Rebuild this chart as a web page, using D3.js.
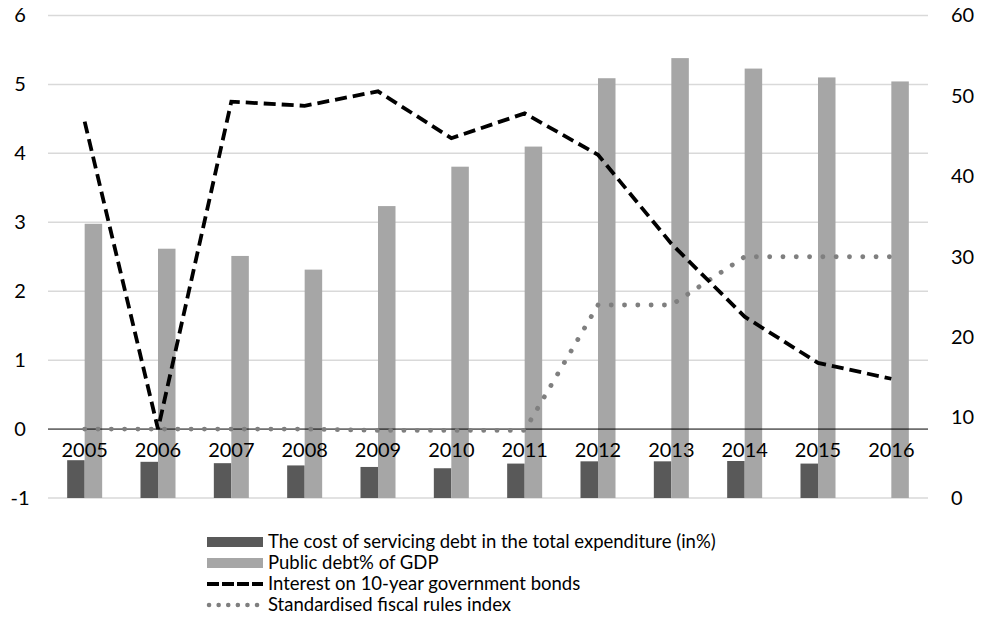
<!DOCTYPE html>
<html>
<head>
<meta charset="utf-8">
<script src="https://cdn.jsdelivr.net/npm/d3@7"></script>
<style>
  body { margin: 0; background: #fff; }
  text { font-family: Lato, "Open Sans", sans-serif; fill: #000; }
</style>
</head>
<body>
<script>
const years = ["2005","2006","2007","2008","2009","2010","2011","2012","2013","2014","2015","2016"];
const servicingCost = [4.7, 4.5, 4.33, 4.05, 3.86, 3.7, 4.28, 4.56, 4.56, 4.6, 4.28, null];
const publicDebt = [34.1, 31.0, 30.1, 28.4, 36.3, 41.2, 43.7, 52.2, 54.7, 53.4, 52.3, 51.8];
const bondInterest = [4.46, 0.0, 4.75, 4.69, 4.9, 4.22, 4.58, 3.98, 2.69, 1.63, 0.96, 0.73];
const fiscalIndex = [0, 0, 0, 0, -0.02, -0.02, -0.02, 1.8, 1.8, 2.5, 2.5, 2.5];
const leftTicks = [-1, 0, 1, 2, 3, 4, 5, 6];
const rightTicks = [0, 10, 20, 30, 40, 50, 60];
const legendLabels = [
    "The cost of servicing debt in the total expenditure (in%)",
    "Public debt% of GDP",
    "Interest on 10-year government bonds",
    "Standardised fiscal rules index"
];

const W = 985, H = 636;
const plot = {left: 48, right: 928, top: 15.5, bottom: 498};

const svg = d3.select('body').append('svg')
    .attr('width', W)
    .attr('height', H);

const x = d3.scaleBand()
    .domain(years)
    .range([plot.left, plot.right]);

const yLeft = d3.scaleLinear()
    .domain([-1, 6])
    .range([plot.bottom, plot.top]);

const yRight = d3.scaleLinear()
    .domain([0, 60])
    .range([plot.bottom, plot.top]);

const cx = d => x(d) + x.bandwidth() / 2;
const barW = 17.5;

// gridlines
svg.append('g')
    .selectAll('line')
    .data(leftTicks.filter(d => d !== 0))
    .enter()
    .append('line')
    .attr('x1', plot.left)
    .attr('x2', plot.right)
    .attr('y1', d => yLeft(d))
    .attr('y2', d => yLeft(d))
    .attr('stroke', '#d9d9d9')
    .attr('stroke-width', 1.5);

// left axis labels (plain hyphen for negatives, like the original)
svg.append('g')
    .attr('transform', `translate(${plot.left}, 0)`)
    .call(d3.axisLeft(yLeft).tickValues(leftTicks).tickFormat(d => String(d)).tickSize(0).tickPadding(28))
    .call(g => g.select('.domain').remove())
    .selectAll('text')
    .attr('text-anchor', 'middle')
    .style('font-size', '20px');

// right axis labels
svg.append('g')
    .attr('transform', `translate(${plot.right}, 0)`)
    .call(d3.axisRight(yRight).tickValues(rightTicks).tickSize(0).tickPadding(23))
    .call(g => g.select('.domain').remove())
    .selectAll('text')
    .style('font-size', '20px');

// bars
svg.append('g')
    .selectAll('rect')
    .data(years.map((y, i) => ({year: y, v: servicingCost[i]})).filter(d => d.v != null))
    .enter()
    .append('rect')
    .attr('x', d => cx(d.year) - barW)
    .attr('width', barW)
    .attr('y', d => yRight(d.v))
    .attr('height', d => yRight(0) - yRight(d.v))
    .attr('fill', '#595959');

svg.append('g')
    .selectAll('rect')
    .data(years.map((y, i) => ({year: y, v: publicDebt[i]})))
    .enter()
    .append('rect')
    .attr('x', d => cx(d.year))
    .attr('width', barW)
    .attr('y', d => yRight(d.v))
    .attr('height', d => yRight(0) - yRight(d.v))
    .attr('fill', '#a6a6a6');

// zero line + category labels
svg.append('line')
    .attr('x1', plot.left)
    .attr('x2', plot.right)
    .attr('y1', yLeft(0))
    .attr('y2', yLeft(0))
    .attr('stroke', '#000')
    .attr('stroke-width', 1);

svg.append('g')
    .attr('transform', `translate(0, ${yLeft(0)})`)
    .call(d3.axisBottom(x).tickSize(0).tickPadding(14))
    .call(g => g.select('.domain').remove())
    .selectAll('text')
    .style('font-size', '20px');

// lines
const line = d3.line()
    .x((d, i) => cx(years[i]))
    .y(d => yLeft(d));

svg.append('path')
    .datum(fiscalIndex)
    .attr('d', line)
    .attr('fill', 'none')
    .attr('stroke', '#7f7f7f')
    .attr('stroke-width', 4.8)
    .attr('stroke-linecap', 'round')
    .attr('stroke-dasharray', '0.1,13.2');

svg.append('path')
    .datum(bondInterest)
    .attr('d', line)
    .attr('fill', 'none')
    .attr('stroke', '#000')
    .attr('stroke-width', 3.8)
    .attr('stroke-dasharray', '12,6');

// legend
const legend = svg.append('g')
    .attr('transform', 'translate(207, 542)');

const rowH = 21;
legendLabels.forEach((label, i) => {
    const row = legend.append('g').attr('transform', `translate(0, ${i * rowH})`);
    if (i === 0 || i === 1) {
        row.append('rect')
            .attr('x', 0).attr('y', -5).attr('width', 56).attr('height', 10)
            .attr('fill', i === 0 ? '#595959' : '#a6a6a6');
    } else if (i === 2) {
        row.append('line')
            .attr('x1', 0).attr('x2', 56).attr('y1', 0).attr('y2', 0)
            .attr('stroke', '#000').attr('stroke-width', 3.8)
            .attr('stroke-dasharray', '12,3');
    } else {
        row.append('line')
            .attr('x1', 2).attr('x2', 56).attr('y1', 0).attr('y2', 0)
            .attr('stroke', '#7f7f7f').attr('stroke-width', 4.5)
            .attr('stroke-linecap', 'round')
            .attr('stroke-dasharray', '0.1,9.5');
    }
    row.append('text')
        .attr('x', 61)
        .attr('y', 0)
        .attr('dy', '0.35em')
        .style('font-size', '18.5px')
        .text(label);
});
</script>
</body>
</html>
